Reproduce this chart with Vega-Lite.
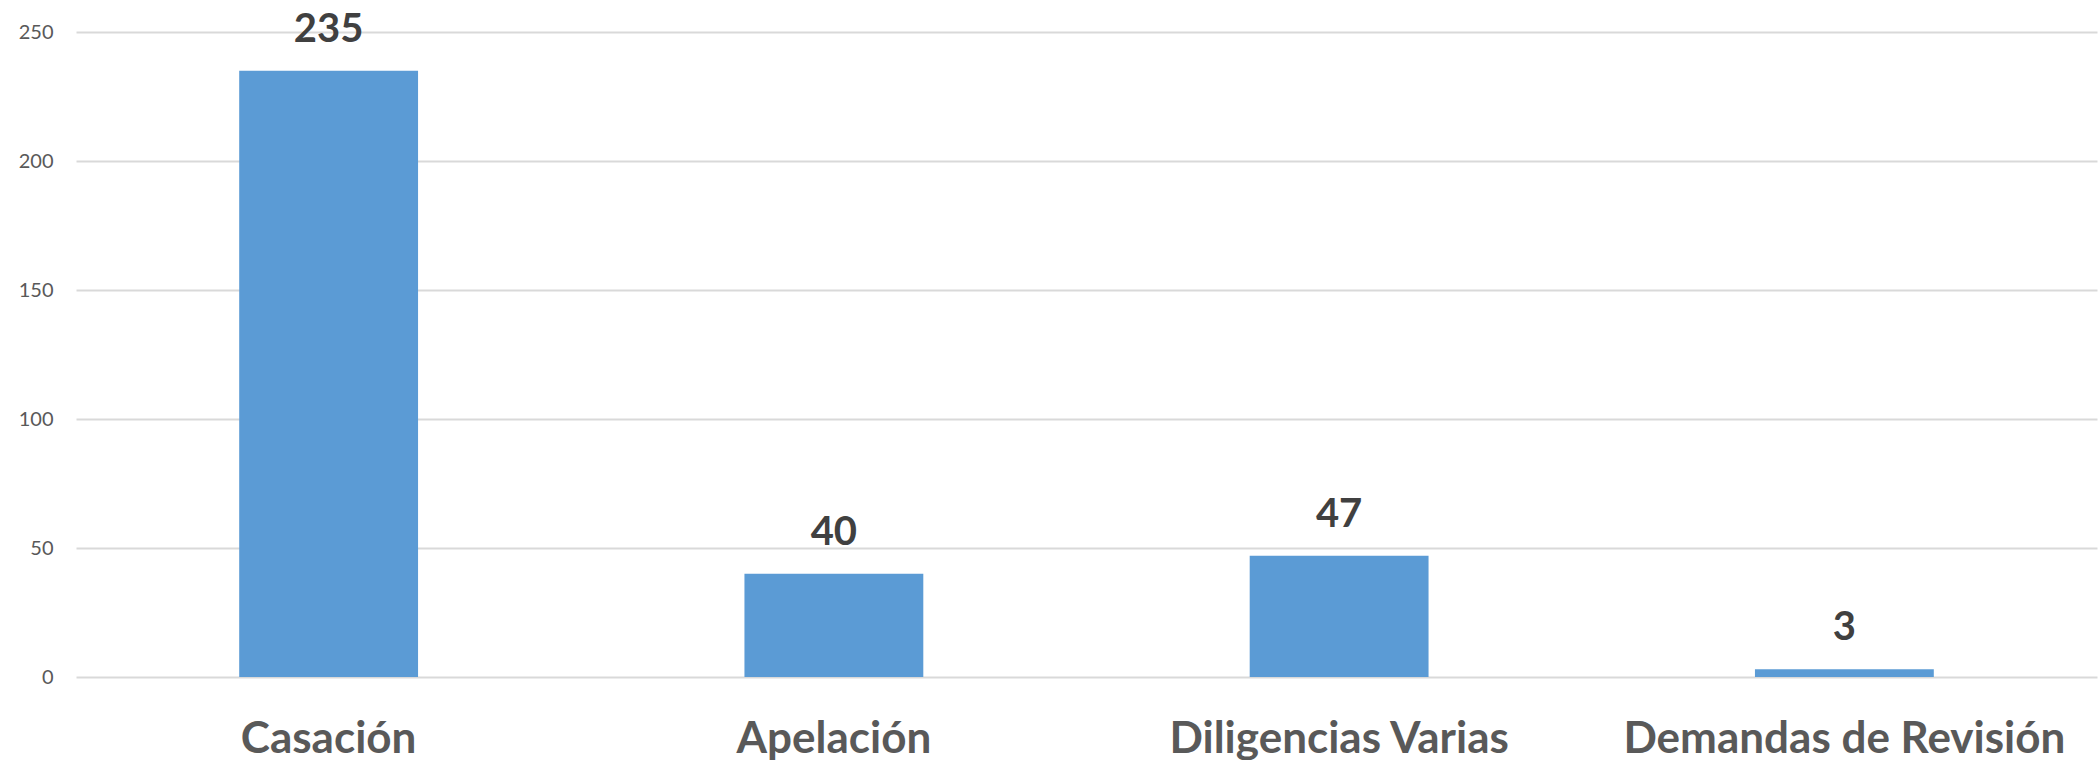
{
  "$schema": "https://vega.github.io/schema/vega-lite/v6.json",
  "autosize": {"type": "none"},
  "padding": {"left": 76, "top": 32, "right": 3, "bottom": 83},
  "width": 2021,
  "height": 645,
  "background": "white",
  "config": {"view": {"stroke": null}, "font": "Lato"},
  "data": {"values": [
    {"tipo": "Casación", "total": 235},
    {"tipo": "Apelación", "total": 40},
    {"tipo": "Diligencias Varias", "total": 47},
    {"tipo": "Demandas de Revisión", "total": 3}
  ]},
  "encoding": {
    "x": {"field": "tipo", "type": "nominal", "sort": null,
      "scale": {"paddingInner": 0.646, "paddingOuter": 0.323},
      "axis": {"title": null, "labelAngle": 0, "domain": false, "ticks": false, "tickSize": 0, "labelLimit": 0,
        "labelPadding": 75, "labelBaseline": "alphabetic", "labelFont": "Lato", "labelFontSize": 44,
        "labelFontWeight": "bold", "labelColor": "#595959"}},
    "y": {"field": "total", "type": "quantitative",
      "scale": {"domain": [0, 250], "nice": false},
      "axis": {"title": null, "values": [0, 50, 100, 150, 200, 250], "domain": false, "ticks": false, "tickSize": 0,
        "labelPadding": 23, "labelFont": "Lato", "labelFontSize": 20, "labelColor": "#595959",
        "gridColor": "#d9d9d9", "gridWidth": 2}}
  },
  "layer": [
    {"mark": {"type": "bar", "color": "#5b9bd5"}},
    {"mark": {"type": "text", "baseline": "alphabetic", "dy": -29, "font": "Lato", "fontSize": 40, "fontWeight": "bold", "color": "#404040"},
      "encoding": {"text": {"field": "total", "type": "quantitative"}}}
  ]
}
